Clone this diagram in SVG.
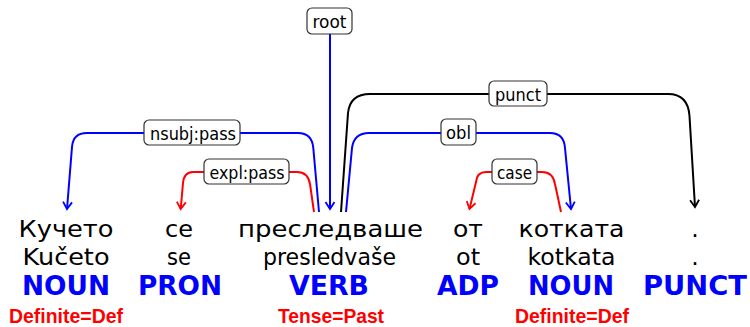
<svg xmlns="http://www.w3.org/2000/svg" width="750" height="327" viewBox="0 0 750 327">
<style>
.form{font-family:"DejaVu Sans",sans-serif;font-size:23.5px;fill:#000;text-anchor:middle}
.pos{font-family:"DejaVu Sans",sans-serif;font-weight:bold;font-size:26px;fill:#0000ff;text-anchor:middle}
.feat{font-family:"Liberation Sans",Arial,sans-serif;font-weight:bold;font-size:21px;fill:#ff0000;text-anchor:middle}
.lbl{font-family:"DejaVu Sans",sans-serif;font-size:17.5px;fill:#000;text-anchor:middle}
.box{fill:#fff;stroke:#333;stroke-width:1.2}
.e{fill:none;stroke-width:2}
.blue{stroke:#0000ff}.red{stroke:#ff0000}.black{stroke:#000}
</style>
<defs>
<marker id="ab" markerUnits="userSpaceOnUse" orient="auto" markerWidth="12" markerHeight="12" refX="0" refY="0" viewBox="-9 -6 12 12" overflow="visible"><path d="M-7,-4.5 L0,0 L-7,4.5" fill="none" stroke="#0000ff" stroke-width="1.8"/></marker>
<marker id="ar" markerUnits="userSpaceOnUse" orient="auto" markerWidth="12" markerHeight="12" refX="0" refY="0" viewBox="-9 -6 12 12" overflow="visible"><path d="M-7,-4.5 L0,0 L-7,4.5" fill="none" stroke="#ff0000" stroke-width="1.8"/></marker>
<marker id="ak" markerUnits="userSpaceOnUse" orient="auto" markerWidth="12" markerHeight="12" refX="0" refY="0" viewBox="-9 -6 12 12" overflow="visible"><path d="M-7,-4.5 L0,0 L-7,4.5" fill="none" stroke="#000" stroke-width="1.8"/></marker>
</defs>
<g id="connectors">
<path class="e blue" d="M330,34 L330,209" marker-end="url(#ab)"/>
<path class="e blue" d="M319,212 L313.3,148 Q312,133 298,133 L87,133 Q73,133 72,147 L67,209" marker-end="url(#ab)"/>
<path class="e red" d="M314,212 L310,184 Q308,172 297,172 L193,172 Q184,172 183,183 L180.7,209" marker-end="url(#ar)"/>
<path class="e black" d="M341,212 L348,113 Q350,94 370,94 L668,94 Q688,94 689.5,116 L695,207" marker-end="url(#ak)"/>
<path class="e blue" d="M346,212 L352,148 Q354,133 369,133 L550,133 Q564,133 565,148 L571,209" marker-end="url(#ab)"/>
<path class="e red" d="M561,212 L555,184 Q553,172 542,172 L486,172 Q477,172 476,182 L469.5,209" marker-end="url(#ar)"/>
<g id="lbl-root"><rect class="box" x="307" y="8" width="45" height="26" rx="5"/><text class="lbl" x="329.5" y="28" textLength="34" lengthAdjust="spacingAndGlyphs">root</text></g>
<g id="lbl-nsubj"><rect class="box" x="144" y="120" width="96" height="25" rx="5"/><text class="lbl" x="193" y="139.5" textLength="86" lengthAdjust="spacingAndGlyphs">nsubj:pass</text></g>
<g id="lbl-expl"><rect class="box" x="204" y="159" width="85" height="25" rx="5"/><text class="lbl" x="247" y="178.5" textLength="75" lengthAdjust="spacingAndGlyphs">expl:pass</text></g>
<g id="lbl-punct"><rect class="box" x="489" y="81" width="58" height="25" rx="5"/><text class="lbl" x="518" y="100.5" textLength="46" lengthAdjust="spacingAndGlyphs">punct</text></g>
<g id="lbl-obl"><rect class="box" x="441" y="119" width="35" height="26" rx="5"/><text class="lbl" x="458.5" y="139" textLength="25" lengthAdjust="spacingAndGlyphs">obl</text></g>
<g id="lbl-case"><rect class="box" x="492" y="159" width="45" height="25" rx="5"/><text class="lbl" x="514.5" y="178.5" textLength="35" lengthAdjust="spacingAndGlyphs">case</text></g>
</g>
<g id="w1">
<text class="form" x="66" y="237" textLength="95" lengthAdjust="spacingAndGlyphs">Кучето</text>
<text class="form" x="66" y="265" textLength="87" lengthAdjust="spacingAndGlyphs">Kučeto</text>
<text class="pos" x="66" y="295" textLength="88" lengthAdjust="spacingAndGlyphs">NOUN</text>
<text class="feat" x="66" y="323" textLength="114" lengthAdjust="spacingAndGlyphs">Definite=Def</text>
</g>
<g id="w2">
<text class="form" x="179" y="237" textLength="28" lengthAdjust="spacingAndGlyphs">се</text>
<text class="form" x="179" y="265" textLength="24" lengthAdjust="spacingAndGlyphs">se</text>
<text class="pos" x="180" y="295" textLength="84" lengthAdjust="spacingAndGlyphs">PRON</text>
</g>
<g id="w3">
<text class="form" x="330.5" y="237" textLength="185" lengthAdjust="spacingAndGlyphs">преследваше</text>
<text class="form" x="329.5" y="265" textLength="133" lengthAdjust="spacingAndGlyphs">presledvaše</text>
<text class="pos" x="329" y="295" textLength="80" lengthAdjust="spacingAndGlyphs">VERB</text>
<text class="feat" x="331" y="323" textLength="106" lengthAdjust="spacingAndGlyphs">Tense=Past</text>
</g>
<g id="w4">
<text class="form" x="468" y="237" textLength="30" lengthAdjust="spacingAndGlyphs">от</text>
<text class="form" x="468" y="265" textLength="24" lengthAdjust="spacingAndGlyphs">ot</text>
<text class="pos" x="468" y="295" textLength="62" lengthAdjust="spacingAndGlyphs">ADP</text>
</g>
<g id="w5">
<text class="form" x="571.5" y="237" textLength="106" lengthAdjust="spacingAndGlyphs">котката</text>
<text class="form" x="571.5" y="265" textLength="88" lengthAdjust="spacingAndGlyphs">kotkata</text>
<text class="pos" x="571" y="295" textLength="86" lengthAdjust="spacingAndGlyphs">NOUN</text>
<text class="feat" x="572" y="323" textLength="114" lengthAdjust="spacingAndGlyphs">Definite=Def</text>
</g>
<g id="w6">
<text class="form" x="695" y="237">.</text>
<text class="form" x="695" y="265">.</text>
<text class="pos" x="695" y="295" textLength="104" lengthAdjust="spacingAndGlyphs">PUNCT</text>
</g>
</svg>
